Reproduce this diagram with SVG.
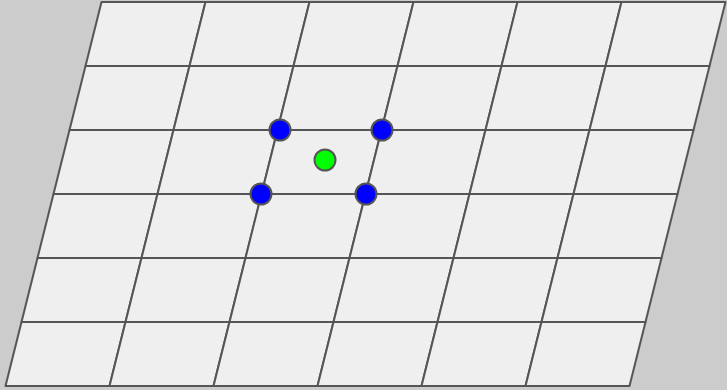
<svg xmlns="http://www.w3.org/2000/svg" width="727" height="390" viewBox="0 0 727 390">
<style>
.cell{fill:#efefef;stroke:#555;stroke-width:2;stroke-linejoin:round}
.dot{stroke:#555;stroke-width:2}
.blue{fill:#0000ff}
.green{fill:#00ff00}
</style>
<rect width="727" height="390" fill="#cccccc"/>
<g id="grid">
<g id="row0">
<polygon class="cell" points="101.5,2 205.5,2 189.5,66 85.5,66"/>
<polygon class="cell" points="205.5,2 309.5,2 293.5,66 189.5,66"/>
<polygon class="cell" points="309.5,2 413.5,2 397.5,66 293.5,66"/>
<polygon class="cell" points="413.5,2 517.5,2 501.5,66 397.5,66"/>
<polygon class="cell" points="517.5,2 621.5,2 605.5,66 501.5,66"/>
<polygon class="cell" points="621.5,2 725.5,2 709.5,66 605.5,66"/>
</g>
<g id="row1">
<polygon class="cell" points="85.5,66 189.5,66 173.5,130 69.5,130"/>
<polygon class="cell" points="189.5,66 293.5,66 277.5,130 173.5,130"/>
<polygon class="cell" points="293.5,66 397.5,66 381.5,130 277.5,130"/>
<polygon class="cell" points="397.5,66 501.5,66 485.5,130 381.5,130"/>
<polygon class="cell" points="501.5,66 605.5,66 589.5,130 485.5,130"/>
<polygon class="cell" points="605.5,66 709.5,66 693.5,130 589.5,130"/>
</g>
<g id="row2">
<polygon class="cell" points="69.5,130 173.5,130 157.5,194 53.5,194"/>
<polygon class="cell" points="173.5,130 277.5,130 261.5,194 157.5,194"/>
<polygon class="cell" points="277.5,130 381.5,130 365.5,194 261.5,194"/>
<polygon class="cell" points="381.5,130 485.5,130 469.5,194 365.5,194"/>
<polygon class="cell" points="485.5,130 589.5,130 573.5,194 469.5,194"/>
<polygon class="cell" points="589.5,130 693.5,130 677.5,194 573.5,194"/>
</g>
<g id="row3">
<polygon class="cell" points="53.5,194 157.5,194 141.5,258 37.5,258"/>
<polygon class="cell" points="157.5,194 261.5,194 245.5,258 141.5,258"/>
<polygon class="cell" points="261.5,194 365.5,194 349.5,258 245.5,258"/>
<polygon class="cell" points="365.5,194 469.5,194 453.5,258 349.5,258"/>
<polygon class="cell" points="469.5,194 573.5,194 557.5,258 453.5,258"/>
<polygon class="cell" points="573.5,194 677.5,194 661.5,258 557.5,258"/>
</g>
<g id="row4">
<polygon class="cell" points="37.5,258 141.5,258 125.5,322 21.5,322"/>
<polygon class="cell" points="141.5,258 245.5,258 229.5,322 125.5,322"/>
<polygon class="cell" points="245.5,258 349.5,258 333.5,322 229.5,322"/>
<polygon class="cell" points="349.5,258 453.5,258 437.5,322 333.5,322"/>
<polygon class="cell" points="453.5,258 557.5,258 541.5,322 437.5,322"/>
<polygon class="cell" points="557.5,258 661.5,258 645.5,322 541.5,322"/>
</g>
<g id="row5">
<polygon class="cell" points="21.5,322 125.5,322 109.5,386 5.5,386"/>
<polygon class="cell" points="125.5,322 229.5,322 213.5,386 109.5,386"/>
<polygon class="cell" points="229.5,322 333.5,322 317.5,386 213.5,386"/>
<polygon class="cell" points="333.5,322 437.5,322 421.5,386 317.5,386"/>
<polygon class="cell" points="437.5,322 541.5,322 525.5,386 421.5,386"/>
<polygon class="cell" points="541.5,322 645.5,322 629.5,386 525.5,386"/>
</g>
</g>
<g id="connectors"></g>
<g id="blue1"><circle class="dot blue" cx="280" cy="130" r="10.5"/></g>
<g id="blue2"><circle class="dot blue" cx="382" cy="130" r="10.5"/></g>
<g id="blue3"><circle class="dot blue" cx="261" cy="194" r="10.5"/></g>
<g id="blue4"><circle class="dot blue" cx="366" cy="194" r="10.5"/></g>
<g id="green"><circle class="dot green" cx="325" cy="160" r="10.5"/></g>
</svg>
